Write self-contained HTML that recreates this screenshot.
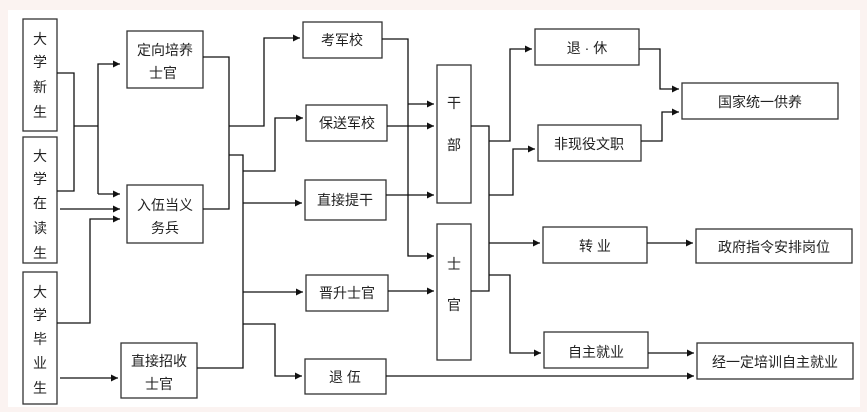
<!DOCTYPE html>
<html><head><meta charset="utf-8"><style>
html,body{margin:0;padding:0;background:#fbf3f1;}
svg{display:block}
text{font-family:"Liberation Sans","Noto Sans CJK SC",sans-serif;font-size:14px;fill:#222}
.r{font-size:7px;fill:#888}
</style></head><body>
<svg width="867" height="412" viewBox="0 0 867 412" xmlns="http://www.w3.org/2000/svg">
<defs><marker id="a" viewBox="0 0 10 10" refX="10" refY="5" markerWidth="7" markerHeight="7" orient="auto" markerUnits="userSpaceOnUse"><path d="M0,0L10,5L0,10z" fill="#111"/></marker></defs>
<rect x="8" y="10" width="852" height="397" fill="#fff"/>
<g fill="none" stroke="#333" stroke-width="1.3">
<rect x="23" y="19" width="34" height="112"/>
<rect x="23" y="137" width="34" height="126"/>
<rect x="23" y="272" width="34" height="132"/>
<rect x="127" y="31" width="76" height="57"/>
<rect x="127" y="185" width="76" height="58"/>
<rect x="121" y="343" width="76" height="55"/>
<rect x="303" y="22" width="79" height="36"/>
<rect x="306" y="105" width="81" height="36"/>
<rect x="305" y="180" width="81" height="40"/>
<rect x="306" y="275" width="82" height="36"/>
<rect x="305" y="359" width="81" height="35"/>
<rect x="437" y="65" width="34" height="138"/>
<rect x="437" y="224" width="34" height="136"/>
<rect x="535" y="29" width="104" height="36"/>
<rect x="538" y="125" width="103" height="36"/>
<rect x="682" y="83" width="156" height="36"/>
<rect x="543" y="227" width="104" height="36"/>
<rect x="696" y="229" width="156" height="34"/>
<rect x="544" y="332" width="104" height="36"/>
<rect x="697" y="343" width="156" height="36"/>
</g>
<g fill="none" stroke="#111" stroke-width="1.3">
<path d="M57 73H74V191H57"/><path d="M74 126H98"/>
<path d="M98 194V64H120" marker-end="url(#a)"/><path d="M98 194H120" marker-end="url(#a)"/>
<path d="M60 209H120" marker-end="url(#a)"/>
<path d="M57 323H90V219H120" marker-end="url(#a)"/>
<path d="M60 378H118" marker-end="url(#a)"/>
<path d="M203 57H229V209H203"/>
<path d="M229 126H264V38H300" marker-end="url(#a)"/>
<path d="M229 155H243V368H197"/>
<path d="M243 171H275V118H303" marker-end="url(#a)"/>
<path d="M243 203H302" marker-end="url(#a)"/>
<path d="M243 292H303" marker-end="url(#a)"/>
<path d="M243 324H275V376H302" marker-end="url(#a)"/>
<path d="M382 39H408V256H434" marker-end="url(#a)"/>
<path d="M408 104H434" marker-end="url(#a)"/>
<path d="M387 126H434" marker-end="url(#a)"/>
<path d="M386 195H434" marker-end="url(#a)"/>
<path d="M388 291H434" marker-end="url(#a)"/>
<path d="M386 376H694" marker-end="url(#a)"/>
<path d="M471 126H489V291H471"/>
<path d="M489 141H510V49H532" marker-end="url(#a)"/>
<path d="M489 195H513V149H535" marker-end="url(#a)"/>
<path d="M489 243H540" marker-end="url(#a)"/>
<path d="M489 275H510V353H541" marker-end="url(#a)"/>
<path d="M639 49H660V89H679" marker-end="url(#a)"/>
<path d="M641 141H662V112H679" marker-end="url(#a)"/>
<path d="M647 243H693" marker-end="url(#a)"/>
<path d="M648 353H694" marker-end="url(#a)"/>
</g>
<g text-anchor="middle">
<text x="40" y="44">大</text><text x="40" y="67">学</text><text x="40" y="92">新</text><text x="40" y="117">生</text>
<text x="40" y="161">大</text><text x="40" y="184">学</text><text x="40" y="208">在</text><text x="40" y="233">读</text><text x="40" y="258">生</text>
<text x="40" y="297">大</text><text x="40" y="320">学</text><text x="40" y="344">毕</text><text x="40" y="368">业</text><text x="40" y="393">生</text>
<text x="165" y="55">定向培养</text><text x="163" y="78">士官</text>
<text x="165" y="210">入伍当义</text><text x="165" y="233">务兵</text>
<text x="159" y="366">直接招收</text><text x="159" y="389">士官</text>
<text x="342" y="45">考军校</text>
<text x="347" y="128">保送军校</text>
<text x="345" y="205">直接提干</text>
<text x="347" y="298">晋升士官</text>
<text x="345" y="382">退 伍</text>
<text x="454" y="108">干</text><text x="454" y="150">部</text>
<text x="454" y="269">士</text><text x="454" y="310">官</text>
<text x="587" y="53">退 · 休</text>
<text x="589" y="149">非现役文职</text>
<text x="760" y="107">国家统一供养</text>
<text x="595" y="251">转 业</text>
<text x="774" y="252">政府指令安排岗位</text>
<text x="596" y="357">自主就业</text>
<text x="775" y="367">经一定培训自主就业</text>
</g>
</svg>
</body></html>
